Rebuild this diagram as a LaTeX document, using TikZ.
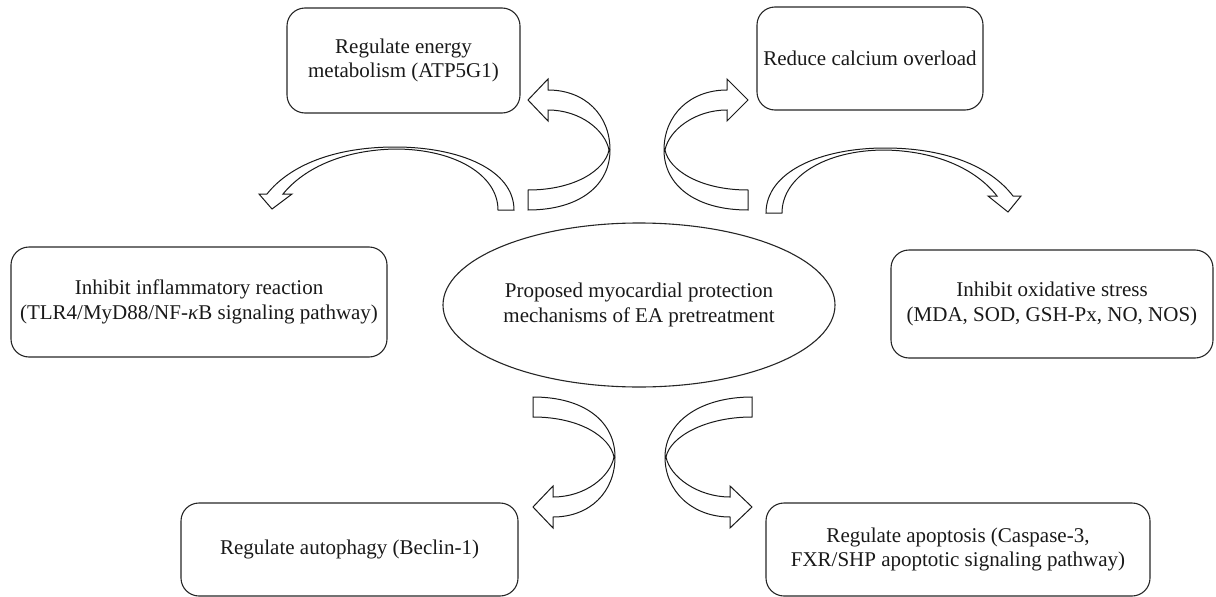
\documentclass[tikz,border=0pt]{standalone}
\usepackage{fontspec}
\setmainfont{Liberation Serif}
\usetikzlibrary{shapes.geometric}
\begin{document}
\begin{tikzpicture}[x=1pt,y=-1pt,
  box/.style={draw=black!85, line width=1.1pt, rounded corners=18pt, align=center,
    font=\fontsize{21}{24.5}\selectfont, text=black!90, inner sep=0pt},
  hub/.style={draw=black!85, line width=1.1pt, ellipse, align=center,
    font=\fontsize{21}{24.5}\selectfont, text=black!90, inner sep=0pt},
  band/.style={draw=black!90, line width=1pt, fill=white, line join=miter}]
\useasboundingbox (0,0) rectangle (1216,597);

% boxes
\node[box, minimum width=233pt, minimum height=105pt] (energy) at (403.5,60.5)
  {Regulate energy\\metabolism (ATP5G1)};
\node[box, minimum width=226pt, minimum height=103pt] (calcium) at (870,58.5)
  {Reduce calcium overload};
\node[box, minimum width=376pt, minimum height=110pt] (inflam) at (199,302)
  {Inhibit inflammatory reaction\\(TLR4/MyD88/NF-\textit{κ}B signaling pathway)};
\node[box, minimum width=322pt, minimum height=108pt] (oxid) at (1052,304)
  {Inhibit oxidative stress\\(MDA, SOD, GSH-Px, NO, NOS)};
\node[box, minimum width=337pt, minimum height=93pt] (autoph) at (349.5,549.5)
  {Regulate autophagy (Beclin-1)};
\node[box, minimum width=384pt, minimum height=93pt] (apopt) at (958,549.5)
  {Regulate apoptosis (Caspase-3,\\FXR/SHP apoptotic signaling pathway)};
\node[hub, minimum width=392pt, minimum height=164pt] (hub) at (639,305)
  {Proposed myocardial protection\\mechanisms of EA pretreatment};

% A: big arc to inflammatory box
\draw[band] (283,194) -- (292,194) -- (272,209) -- (259,194) -- (267,194)
  .. controls (290,165) and (335,147) .. (395,147)
  .. controls (460,147) and (514,170) .. (514,210)
  -- (498,210)
  .. controls (498,175) and (455,149) .. (395,149)
  .. controls (345,150) and (305,167) .. (283,194) -- cycle;

% B: big arc to oxidative box
\draw[band] (997,196) -- (988,196) -- (1008,212) -- (1021,196) -- (1013,196)
  .. controls (990,166) and (945,148) .. (885,148)
  .. controls (820,148) and (766,172) .. (766,213)
  -- (782,213)
  .. controls (782,177) and (825,150) .. (885,150)
  .. controls (935,151) and (975,168) .. (997,196) -- cycle;

% C: twisted arrow to energy box
\draw[band] (548,110) -- (548,121) -- (528,100) -- (548,79) -- (548,90)
  .. controls (585,90) and (610,115) .. (610,150)
  .. controls (610,185) and (580,210) .. (528,210)
  -- (528,190)
  .. controls (575,190) and (605,170) .. (609,150)
  .. controls (605,130) and (580,110) .. (548,110) -- cycle;

% D: twisted arrow to calcium box
\draw[band] (727,110) -- (727,121) -- (748,100) -- (727,79) -- (727,90)
  .. controls (690,90) and (664,115) .. (664,150)
  .. controls (664,185) and (695,210) .. (748,210)
  -- (748,190)
  .. controls (700,190) and (669,170) .. (665,150)
  .. controls (669,130) and (695,110) .. (727,110) -- cycle;

% E: twisted arrow to autophagy box
\draw[band] (553,497) -- (553,486) -- (533,507) -- (553,528) -- (553,517)
  .. controls (590,517) and (615,492) .. (615,457)
  .. controls (615,422) and (585,397) .. (533,397)
  -- (533,417)
  .. controls (580,417) and (610,437) .. (614,457)
  .. controls (610,477) and (585,497) .. (553,497) -- cycle;

% F: twisted arrow to apoptosis box
\draw[band] (730,497) -- (730,486) -- (752,507) -- (730,528) -- (730,517)
  .. controls (693,517) and (665,492) .. (665,457)
  .. controls (665,422) and (700,397) .. (752,397)
  -- (752,417)
  .. controls (705,417) and (670,437) .. (666,457)
  .. controls (670,477) and (698,497) .. (730,497) -- cycle;
\end{tikzpicture}
\end{document}
